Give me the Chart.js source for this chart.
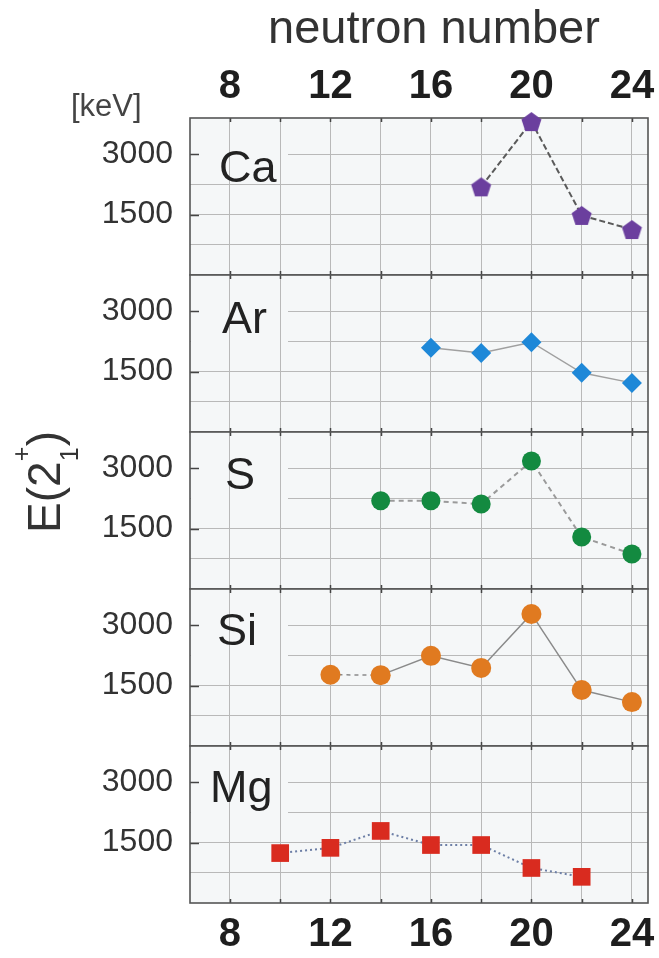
<!DOCTYPE html>
<html>
<head>
<meta charset="utf-8">
<script src="https://cdn.jsdelivr.net/npm/chart.js@4/dist/chart.umd.min.js"></script>
<style>
html,body{margin:0;padding:0;background:#fff;}
#wrap{position:relative;width:659px;height:958px;overflow:hidden;font-family:"Liberation Sans",Arial,sans-serif;}
#wrap canvas{position:absolute;left:0;}
.txt{position:absolute;white-space:nowrap;}
.el{font-size:45px;line-height:45px;color:#222;}
#title{left:268px;top:3px;font-size:47px;line-height:47px;color:#333;}
#unit{left:71px;top:90px;font-size:31px;line-height:31px;color:#444;}
#ytitle{left:-56px;top:459px;width:200px;height:46px;font-size:46px;line-height:46px;text-align:center;color:#333;transform:rotate(-90deg);}
.ss{display:inline-block;position:relative;width:15px;height:30px;}
.ss span{position:absolute;left:0;font-size:25px;line-height:25px;}
.ss .sp{top:-21px;}
.ss .sb{top:27px;}
</style>
</head>
<body>
<div id="wrap">
  <canvas id="c0" width="659" height="237" style="top:40px"></canvas>
  <canvas id="c1" width="659" height="161" style="top:273px"></canvas>
  <canvas id="c2" width="659" height="161" style="top:430px"></canvas>
  <canvas id="c3" width="659" height="161" style="top:587px"></canvas>
  <canvas id="c4" width="659" height="214" style="top:744px"></canvas>
  <div class="txt" id="title">neutron number</div>
  <div class="txt" id="unit">[keV]</div>
  <div class="txt" id="ytitle">E(2<span class="ss"><span class="sp">+</span><span class="sb">1</span></span>)</div>
  <div class="txt el" style="left:219px;top:144px">Ca</div>
  <div class="txt el" style="left:222px;top:295px">Ar</div>
  <div class="txt el" style="left:225px;top:451px">S</div>
  <div class="txt el" style="left:217px;top:607px">Si</div>
  <div class="txt el" style="left:210px;top:764px">Mg</div>
</div>
<script>
// ---- data ----
const neutronGrid = [8, 10, 12, 14, 16, 18, 20, 22, 24];
const neutronTickLabels = [8, 12, 16, 20, 24];
const energyGrid = [750, 1500, 2250, 3000];
const energyTickLabels = [1500, 3000];
const elements = ['Ca', 'Ar', 'S', 'Si', 'Mg'];

const nCa = [18, 20, 22, 24];
const eCa = [2190, 3810, 1480, 1130];
const nAr = [16, 18, 20, 22, 24];
const eAr = [2090, 1960, 2230, 1470, 1220];
const nS = [14, 16, 18, 20, 22, 24];
const eS = [2190, 2190, 2110, 3180, 1290, 870];
const nSi = [12, 14, 16, 18, 20, 22, 24];
const eSi = [1770, 1760, 2240, 1940, 3280, 1390, 1090];
const nMg = [10, 12, 14, 16, 18, 20, 22];
const eMg = [1240, 1370, 1790, 1440, 1440, 870, 650];

// ---- styling ----
Chart.defaults.font.family = '"Liberation Sans", Arial, sans-serif';
const FONT = '"Liberation Sans", Arial, sans-serif';
const PLOT_BG = '#f5f7f8';
const GRID = '#b9b9b9';

function pentagon(color, r) {
  const s = Math.ceil(2 * r + 2);
  const c = document.createElement('canvas');
  c.width = s; c.height = s;
  const g = c.getContext('2d');
  g.fillStyle = color;
  g.beginPath();
  for (let i = 0; i < 5; i++) {
    const a = -Math.PI / 2 + i * 2 * Math.PI / 5;
    const x = s / 2 + r * Math.cos(a), y = s / 2 + r * Math.sin(a) + 1;
    if (i) g.lineTo(x, y); else g.moveTo(x, y);
  }
  g.closePath();
  g.fill();
  return c;
}

const panels = [
  {id: 'c0', n: nCa, e: eCa, color: '#6b3f9e', point: pentagon('#6b3f9e', 10.5), radius: 10,
   line: '#5a5a5a', lw: 2, dash: [6, 3], xPos: 'top', xH: 78, pad: {top: 0, bottom: 2, left: 0, right: 11}, showX: true, maskFrom: 2600},
  {id: 'c1', n: nAr, e: eAr, color: '#1e88d8', point: 'rectRot', radius: 10,
   line: '#a0a0a0', lw: 1.5, dash: [], xPos: 'bottom', xH: 0, pad: {top: 2, bottom: 2, left: 0, right: 11}, showX: false, maskFrom: 1950},
  {id: 'c2', n: nS, e: eS, color: '#138a40', point: 'circle', radius: 9.5,
   line: '#9a9a9a', lw: 2, dash: [5, 4], xPos: 'bottom', xH: 0, pad: {top: 2, bottom: 2, left: 0, right: 11}, showX: false, maskFrom: 1950},
  {id: 'c3', n: nSi, e: eSi, color: '#e07a20', point: 'circle', radius: 10,
   line: '#8a8a8a', lw: 1.5, dash: [], xPos: 'bottom', xH: 0, pad: {top: 2, bottom: 2, left: 0, right: 11}, showX: false,
   segDash: [4, 4], maskFrom: 1950},
  {id: 'c4', n: nMg, e: eMg, color: '#d92b1f', point: 'rect', radius: 12.5,
   line: '#6d7fa6', lw: 2, dash: [2, 3], xPos: 'bottom', xH: 55, pad: {top: 2, bottom: 0, left: 0, right: 11}, showX: true, maskFrom: 1950}
];

const framePlugin = {
  id: 'frame',
  beforeDraw(chart) {
    const {ctx, chartArea: a} = chart;
    ctx.save();
    ctx.fillStyle = PLOT_BG;
    ctx.fillRect(a.left, a.top, a.right - a.left, a.bottom - a.top);
    ctx.restore();
  },
  beforeDatasetsDraw(chart, args, opts) {
    const {ctx, chartArea: a, scales} = chart;
    ctx.save();
    // the element symbol's label box hides the upper horizontal grid lines
    const maskRight = Math.round(scales.x.getPixelForValue(10.3));
    const gridX = neutronGrid.map(v => Math.round(scales.x.getPixelForValue(v) - 0.5));
    energyGrid.forEach(v => {
      if (v < opts.maskFrom) return;
      const row = Math.round(scales.y.getPixelForValue(v) - 0.5);
      ctx.fillStyle = PLOT_BG;
      ctx.fillRect(a.left + 1, row - 0.5, maskRight - a.left - 1, 2);
      ctx.fillStyle = GRID;
      gridX.forEach(gx => { if (gx < maskRight) ctx.fillRect(gx, row - 1, 1, 3); });
    });
    // inward tick marks
    ctx.strokeStyle = '#444';
    ctx.lineWidth = 1.5;
    ctx.beginPath();
    energyTickLabels.forEach(v => {
      const y = Math.round(scales.y.getPixelForValue(v)) + 0.5;
      ctx.moveTo(a.left, y); ctx.lineTo(a.left + 9, y);
    });
    neutronGrid.forEach(v => {
      const x = Math.round(scales.x.getPixelForValue(v)) + 0.5;
      ctx.moveTo(x, a.top); ctx.lineTo(x, a.top + 4);
      ctx.moveTo(x, a.bottom); ctx.lineTo(x, a.bottom - 4);
    });
    ctx.stroke();
    ctx.strokeStyle = '#555';
    ctx.lineWidth = 1.6;
    ctx.strokeRect(a.left, a.top, a.right - a.left, a.bottom - a.top);
    ctx.restore();
  }
};

panels.forEach((p, idx) => {
  const data = p.n.map((n, i) => ({x: n, y: p.e[i]}));
  const ds = {
    label: elements[idx],
    data: data,
    borderColor: p.line,
    borderWidth: p.lw,
    borderDash: p.dash,
    pointStyle: p.point,
    pointRadius: p.radius,
    pointBackgroundColor: p.color,
    pointBorderColor: p.color,
    pointBorderWidth: 0,
    tension: 0,
    clip: false
  };
  if (p.segDash) {
    ds.segment = {borderDash: ctx => ctx.p0DataIndex === 0 ? p.segDash : undefined};
  }
  new Chart(document.getElementById(p.id), {
    type: 'line',
    data: {datasets: [ds]},
    plugins: [framePlugin],
    options: {
      responsive: false,
      animation: false,
      devicePixelRatio: 1,
      layout: {padding: p.pad, autoPadding: false},
      plugins: {legend: {display: false}, tooltip: {enabled: false}, frame: {maskFrom: p.maskFrom}},
      events: [],
      scales: {
        x: {
          type: 'linear',
          position: p.xPos,
          min: 6.41,
          max: 24.64,
          afterBuildTicks: s => { s.ticks = neutronGrid.map(v => ({value: v})); },
          afterFit: s => { s.height = p.xH; s.paddingLeft = 0; s.paddingRight = 0; s.paddingTop = 0; s.paddingBottom = 0; },
          grid: {color: GRID, lineWidth: 1, drawTicks: false},
          border: {display: false},
          ticks: {
            display: p.showX,
            autoSkip: false,
            maxRotation: 0,
            padding: p.xPos === 'top' ? 7 : 8,
            color: '#1e1e1e',
            font: {family: FONT, size: 40, weight: 'bold'},
            callback: v => neutronTickLabels.includes(v) ? String(v) : ''
          }
        },
        y: {
          type: 'linear',
          min: 0,
          max: 3900,
          afterBuildTicks: s => { s.ticks = energyGrid.map(v => ({value: v})); },
          afterFit: s => { s.width = 190; s.paddingTop = 0; s.paddingBottom = 0; s.paddingLeft = 0; s.paddingRight = 0; },
          grid: {color: GRID, lineWidth: 1, drawTicks: false},
          border: {display: false},
          ticks: {
            autoSkip: false,
            padding: 17,
            color: '#333',
            font: {family: FONT, size: 32},
            callback: v => energyTickLabels.includes(v) ? String(v) : ''
          }
        }
      }
    }
  });
});
</script>
</body>
</html>
